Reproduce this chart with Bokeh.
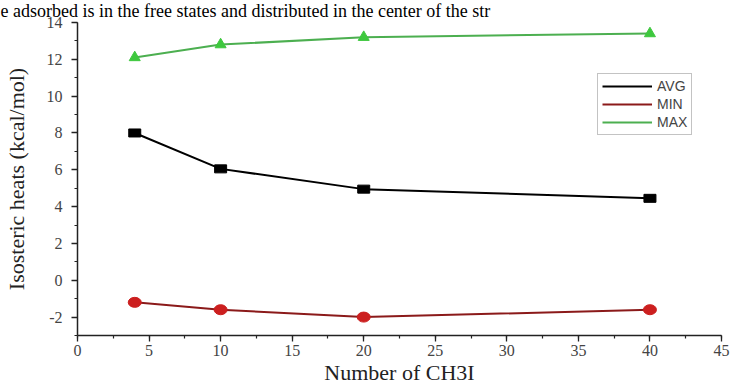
from bokeh.plotting import figure
from bokeh.models import Range1d, Legend, LegendItem, Title, SingleIntervalTicker, ColumnDataSource
from bokeh.embed import file_html
from bokeh.resources import INLINE

x_vals = [4, 10, 20, 40]
avg_vals = [8.0, 6.05, 4.95, 4.45]
min_vals = [-1.2, -1.6, -2.0, -1.6]
max_vals = [12.1, 12.8, 13.2, 13.4]
series_names = ["AVG", "MIN", "MAX"]
x_label = "Number of CH3I"
y_label = "Isosteric heats (kcal/mol)"
top_text = "e adsorbed is in the free states and distributed in the center of the str"

serif = "Liberation Serif"

title = Title(text=top_text, text_font=serif, text_font_size="18px", text_font_style="normal",
              text_color="black", align="left", offset=-77, standoff=0,
              vertical_align="top", text_line_height=0.75)

p = figure(width=732, height=387, output_backend="svg", toolbar_location=None,
           x_range=Range1d(0, 45), y_range=Range1d(-3, 14), title=title,
           min_border_left=77, min_border_right=11, min_border_top=0, min_border_bottom=51)
p.outline_line_color = None
p.xgrid.grid_line_color = None
p.ygrid.grid_line_color = None
p.background_fill_color = "white"

for ax in (p.xaxis[0], p.yaxis[0]):
    ax.axis_line_color = "#222222"
    ax.axis_line_width = 1.5
    ax.major_tick_line_color = "#222222"
    ax.minor_tick_line_color = "#222222"
    ax.major_tick_line_width = 1.3
    ax.minor_tick_line_width = 1.2
    ax.major_tick_out = 6
    ax.major_tick_in = 0
    ax.minor_tick_out = 3
    ax.minor_tick_in = 0
    ax.major_label_text_font = serif
    ax.major_label_text_font_size = "16px"
    ax.major_label_text_color = "#444444"
    ax.axis_label_text_font = serif
    ax.axis_label_text_font_style = "normal"
    ax.axis_label_text_color = "#222222"

p.xaxis.ticker = SingleIntervalTicker(interval=5, num_minor_ticks=2)
p.yaxis.ticker = SingleIntervalTicker(interval=2, num_minor_ticks=2)
p.yaxis.major_label_overrides = {-2: "-2"}
p.xaxis.axis_label = x_label
p.yaxis.axis_label = y_label
p.xaxis.axis_label_text_font_size = "22px"
p.yaxis.axis_label_text_font_size = "22px"
p.xaxis.major_label_standoff = 3
p.xaxis.axis_label_standoff = 1
p.yaxis.major_label_standoff = 9
p.yaxis.axis_label_standoff = 15

avg_col = "#000000"
min_line = "#8b1a1a"
min_fill = "#cc1f1f"
max_line = "#4caf50"
max_fill = "#3ec83e"

src = ColumnDataSource(dict(x=x_vals, avg=avg_vals, mn=min_vals, mx=max_vals))

l_avg = p.line("x", "avg", source=src, line_color=avg_col, line_width=2)
p.rect("x", "avg", source=src, width=12, height=8, width_units="screen", height_units="screen",
       fill_color=avg_col, line_color=avg_col)
l_min = p.line("x", "mn", source=src, line_color=min_line, line_width=2)
p.ellipse("x", "mn", source=src, width=13, height=10, width_units="screen", height_units="screen",
          fill_color=min_fill, line_color=min_fill)
l_max = p.line("x", "mx", source=src, line_color=max_line, line_width=2)
p.scatter("x", "mx", source=src, marker="triangle", size=11, fill_color=max_fill, line_color=max_fill)

# legend-only marker renderers
e = dict(x=[], y=[])
m_avg = p.scatter("x", "y", source=ColumnDataSource(e), marker="square", size=8, fill_color=avg_col, line_color=avg_col)
m_min = p.scatter("x", "y", source=ColumnDataSource(e), marker="circle", size=9, fill_color=min_fill, line_color=min_fill)
m_max = p.scatter("x", "y", source=ColumnDataSource(e), marker="triangle", size=10, fill_color=max_fill, line_color=max_fill)

legend = Legend(items=[
    LegendItem(label=series_names[0], renderers=[l_avg, m_avg]),
    LegendItem(label=series_names[1], renderers=[l_min, m_min]),
    LegendItem(label=series_names[2], renderers=[l_max, m_max]),
], location=(520, 200))
legend.glyph_width = 50
legend.glyph_height = 16
legend.spacing = 2
legend.padding = 4
legend.margin = 0
legend.label_text_font = "Liberation Sans"
legend.label_text_font_size = "14px"
legend.label_text_color = "#444444"
legend.border_line_color = "#888888"
legend.border_line_width = 1
legend.background_fill_alpha = 1
p.add_layout(legend, "center")

open("out.html", "w").write(file_html(p, INLINE))
